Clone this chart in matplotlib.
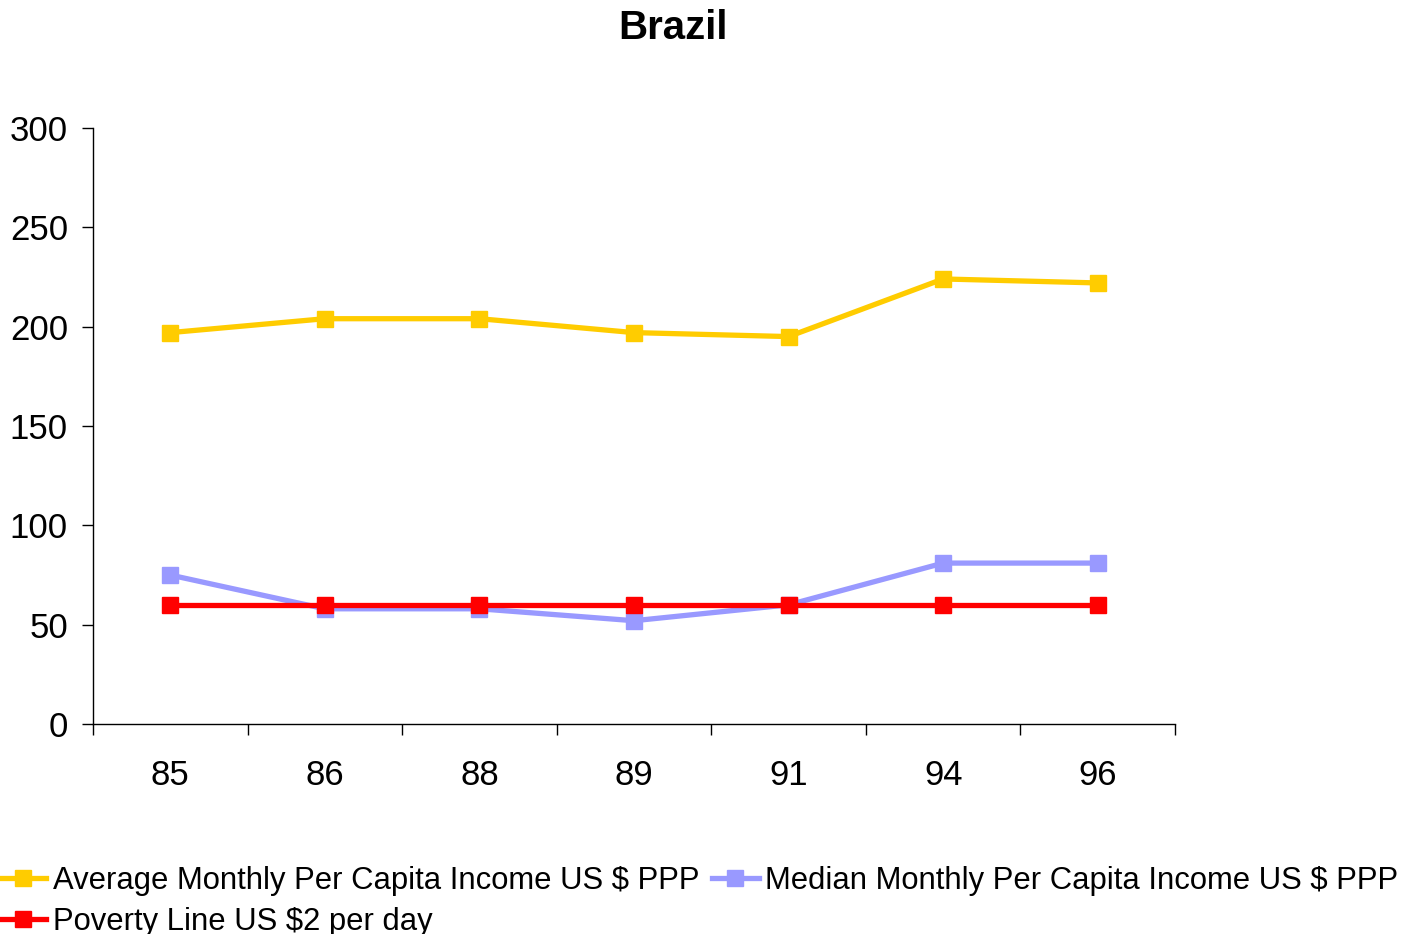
import matplotlib
matplotlib.use("Agg")
import matplotlib.pyplot as plt
import numpy as np

plt.rcParams['font.family'] = ['Liberation Sans', 'DejaVu Sans']

years = ["85", "86", "88", "89", "91", "94", "96"]
average_income = [197, 204, 204, 197, 195, 224, 222]
median_income = [75, 58, 58, 52, 60, 81, 81]
poverty_line = [60, 60, 60, 60, 60, 60, 60]

fig = plt.figure(figsize=(14.02, 9.34), dpi=100)
ax = fig.add_axes([0.0663, 0.2248, 0.7718, 0.6382])

x = np.arange(len(years))
l1, = ax.plot(x, average_income, color='#FFCC00', lw=3.8, marker='s', ms=11.5, label='Average Monthly Per Capita Income US $ PPP')
l2, = ax.plot(x, median_income, color='#9999FF', lw=3.8, marker='s', ms=11.5, label='Median Monthly Per Capita Income US $ PPP')
l3, = ax.plot(x, poverty_line, color='#FF0000', lw=3.8, marker='s', ms=11.5, label='Poverty Line US $2 per day')

ax.set_xlim(-0.5, len(years) - 0.5)
ax.set_ylim(0, 300)
ax.set_yticks(range(0, 301, 50))
ax.set_xticks(np.arange(-0.5, len(years), 1.0))
ax.set_xticklabels([])
ax.set_xticks(x, minor=True)
ax.set_xticklabels(years, minor=True)
ax.tick_params(axis='x', which='minor', length=0, pad=25, labelsize=25)
ax.tick_params(axis='x', which='major', length=8, direction='out', width=1)
ax.tick_params(axis='y', length=8, direction='out', width=1, labelsize=25, pad=10)

for s in ['top', 'right']:
    ax.spines[s].set_visible(False)
for s in ['left', 'bottom']:
    ax.spines[s].set_linewidth(1)

fig.text(0.48, 0.970, 'Brazil', ha='center', va='center', fontsize=29, fontweight='bold')

fig.legend([l1, l3, l2], [l1.get_label(), l3.get_label(), l2.get_label()],
           loc='lower left', bbox_to_anchor=(-0.009, -0.016), ncol=2, frameon=False,
           fontsize=22.35, handlelength=1.5, handletextpad=0.2, columnspacing=0.42,
           labelspacing=0.33, borderaxespad=0)

fig.savefig('out.png', dpi=100)
